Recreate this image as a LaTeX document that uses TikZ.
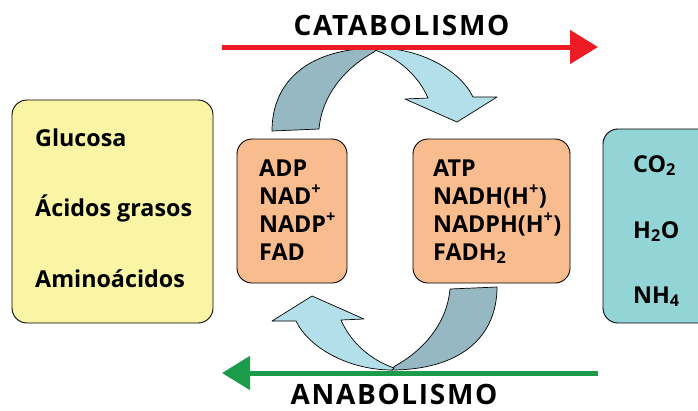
\documentclass[tikz,border=0pt]{standalone}
\usepackage{fontspec}
\setmainfont{Open Sans}
\usetikzlibrary{arrows.meta}
\definecolor{yel}{RGB}{249,245,164}
\definecolor{ora}{RGB}{249,188,142}
\definecolor{cya}{RGB}{147,213,214}
\definecolor{darkb}{RGB}{149,184,194}
\definecolor{lightb}{RGB}{179,223,234}
\definecolor{redl}{RGB}{237,28,36}
\definecolor{greenl}{RGB}{26,156,74}
\tikzset{
  box/.style={draw=black, line width=0.9pt, rounded corners=15pt, inner sep=0pt},
  lbl/.style={anchor=base west, inner sep=0pt, font=\fontsize{23.3}{26}\selectfont\bfseries},
  title/.style={anchor=base, inner sep=0pt, font=\fontsize{28}{34}\selectfont\bfseries\addfontfeatures{LetterSpace=6}},
  band/.style={draw=black, line width=0.7pt, line join=round},
  flow/.style={line width=5pt, -{Triangle[length=28pt,width=33pt]}}
}
\begin{document}
\begin{tikzpicture}[x=1pt,y=-1pt]
\useasboundingbox (0,0) rectangle (698,410);
% boxes
\node[box, fill=yel, minimum width=201pt, minimum height=223pt] (src) at (112.5,211.5) {};
\node[box, fill=ora, minimum width=110pt, minimum height=144pt] (low) at (292,211) {};
\node[box, fill=ora, minimum width=157pt, minimum height=144pt] (high) at (491.5,211) {};
\node[box, fill=cya, minimum width=112pt, minimum height=194pt] (prod) at (659,226) {};
% texts
\node[lbl] (g1) at (35,146) {Glucosa};
\node[lbl] (g2) at (35,216) {Ácidos grasos};
\node[lbl] (g3) at (35,287) {Aminoácidos};
\node[lbl] (l1) at (259,176) {ADP};
\node[lbl] (l2) at (259,204) {NAD\textsuperscript{+}};
\node[lbl] (l3) at (259,232) {NADP\textsuperscript{+}};
\node[lbl] (l4) at (259,260) {FAD};
\node[lbl] (h1) at (433,176) {ATP};
\node[lbl] (h2) at (433,204) {NADH(H\textsuperscript{+})};
\node[lbl] (h3) at (433,232) {NADPH(H\textsuperscript{+})};
\node[lbl] (h4) at (433,260) {FADH\textsubscript{2}};
\node[lbl] (p1) at (633,172) {CO\textsubscript{2}};
\node[lbl] (p2) at (633,238) {H\textsubscript{2}O};
\node[lbl] (p3) at (633,303) {NH\textsubscript{4}};
% curved arrows
\foreach \r in {0,180}{
\begin{scope}[rotate around={\r:(384.5,209)}]
\path[band, fill=darkb] (272,131) .. controls (272,80) and (310,48) .. (378,48)
   -- (374,52) .. controls (345,68) and (322,95) .. (319,129) -- cycle;
\path[band, fill=lightb] (377,48) .. controls (420,48) and (460,70) .. (473,97)
   -- (497,97) -- (457,122) -- (405,99) -- (428,98)
   .. controls (418,75) and (398,58) .. (375,50) -- cycle;
\end{scope}}
% main arrows
\coordinate (cs) at (222,47);
\coordinate (ce) at (598,47);
\coordinate (as) at (598,373);
\coordinate (ae) at (222,373);
\draw[flow, redl] (cs) -- (ce);
\draw[flow, greenl] (as) -- (ae);
\node[title] (cat) at (401.5,35) {CATABOLISMO};
\node[title] (ana) at (394,404) {ANABOLISMO};
\end{tikzpicture}
\end{document}
